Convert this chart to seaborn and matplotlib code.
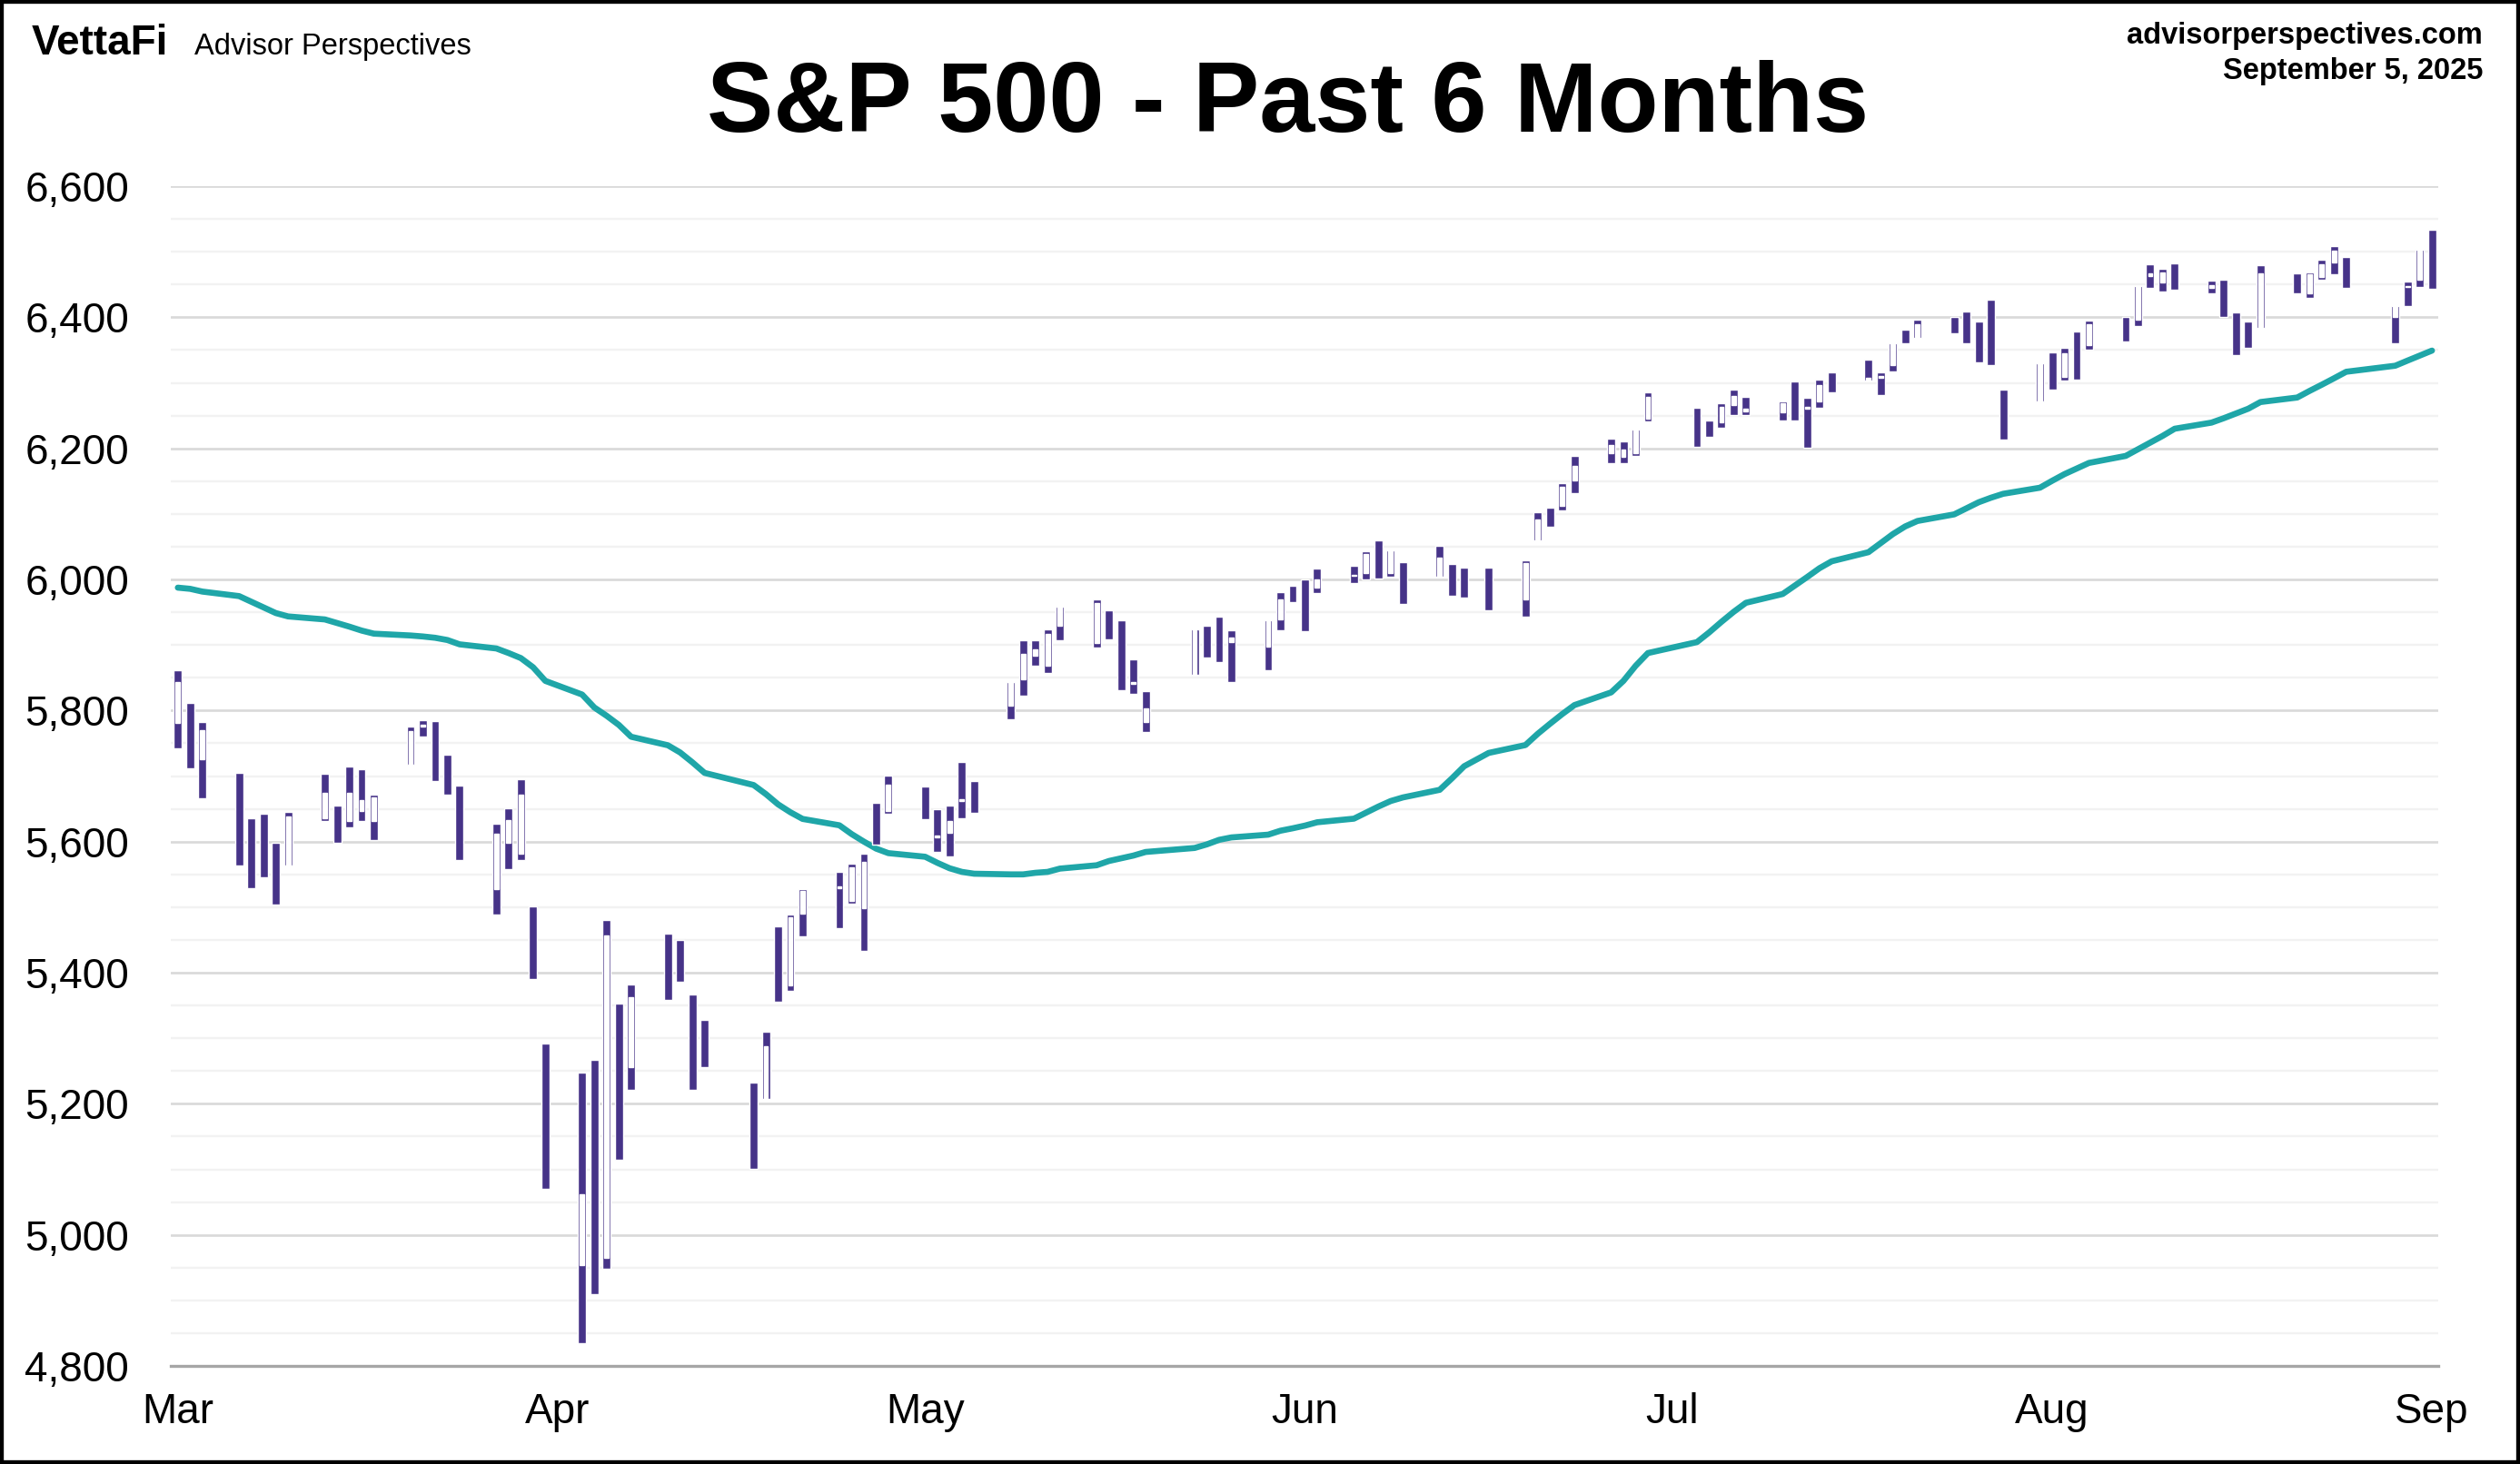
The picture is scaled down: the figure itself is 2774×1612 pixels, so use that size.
import pandas as pd
import matplotlib.pyplot as plt
import seaborn as sns
from matplotlib.patches import Rectangle
from matplotlib.ticker import MultipleLocator, FuncFormatter

# trading days shown (Mar 5 - Sep 5, 2025)
holidays = ['2025-04-18', '2025-05-26', '2025-06-19', '2025-07-04', '2025-09-01']
dates = pd.bdate_range('2025-03-05', '2025-09-05').drop(pd.to_datetime(holidays))

opens = [5781, 5786, 5726, 5705, 5604, 5625, 5595, 5564, 5636, 5655, 5632, 5647, 5631, 5718, 5776, 5772, 5696, 5680, 5528,
         5598, 5581, 5493, 5292, 4954, 5194, 4965, 5353, 5256, 5442, 5411, 5336, 5306, 5233, 5208, 5396, 5381, 5490, 5529, 5509, 5499,
         5625, 5646, 5665, 5607, 5614, 5662, 5679, 5808, 5848, 5884, 5869, 5929, 5903, 5945, 5929, 5841, 5782, 5854, 5925, 5940, 5904,
         5897, 5939, 5979, 5986, 5987, 6005, 6010, 6049, 6010, 6001, 6004, 6012, 5988, 6005, 5970, 6061, 6104, 6112, 6151, 6193,
         6187, 6193, 6246, 6259, 6233, 6240, 6266, 6256, 6255, 6295, 6261, 6272, 6313, 6305, 6307, 6327, 6369, 6370, 6398, 6409, 6375, 6427,
         6287, 6272, 6336, 6309, 6374, 6357, 6390, 6397, 6463, 6453, 6476, 6445, 6446, 6405, 6388, 6385, 6458, 6436, 6462, 6484, 6496,
         6401, 6446, 6457, 6530]
highs = [5861, 5812, 5783, 5705, 5636, 5642, 5598, 5645, 5704, 5655, 5715, 5711, 5671, 5775, 5785, 5784, 5732, 5686, 5627,
         5651, 5695, 5501, 5292, 5247, 5267, 5481, 5353, 5382, 5460, 5450, 5367, 5328, 5233, 5310, 5470, 5489, 5527, 5554, 5566, 5582,
         5659, 5701, 5684, 5649, 5655, 5721, 5692, 5844, 5907, 5907, 5924, 5959, 5969, 5953, 5938, 5878, 5830, 5924, 5929, 5943, 5922,
         5937, 5981, 5991, 6000, 6017, 6021, 6043, 6059, 6045, 6026, 6051, 6023, 6018, 6018, 6029, 6102, 6109, 6147, 6188, 6215,
         6211, 6228, 6285, 6262, 6243, 6269, 6290, 6278, 6272, 6302, 6277, 6305, 6316, 6336, 6316, 6361, 6381, 6396, 6401, 6409, 6393, 6427,
         6289, 6330, 6346, 6353, 6379, 6395, 6401, 6447, 6481, 6474, 6482, 6456, 6457, 6408, 6393, 6479, 6467, 6469, 6488, 6509, 6492,
         6417, 6454, 6503, 6533]
lows = [5742, 5712, 5666, 5564, 5529, 5546, 5504, 5563, 5631, 5598, 5622, 5632, 5603, 5718, 5760, 5693, 5671, 5572, 5489,
        5558, 5572, 5391, 5070, 4835, 4909, 4948, 5115, 5221, 5358, 5386, 5221, 5256, 5101, 5207, 5356, 5372, 5455, 5468, 5506, 5433,
        5596, 5643, 5634, 5585, 5578, 5635, 5644, 5787, 5822, 5868, 5857, 5907, 5896, 5909, 5831, 5826, 5767, 5854, 5881, 5874, 5844,
        5861, 5923, 5966, 5921, 5979, 5994, 6000, 6002, 6004, 5963, 6004, 5975, 5972, 5953, 5943, 6059, 6081, 6105, 6132, 6178,
        6177, 6188, 6241, 6202, 6218, 6231, 6251, 6251, 6243, 6242, 6201, 6262, 6285, 6304, 6282, 6318, 6361, 6369, 6375, 6361, 6331, 6327,
        6213, 6272, 6289, 6304, 6305, 6351, 6363, 6386, 6445, 6440, 6442, 6437, 6400, 6343, 6353, 6384, 6437, 6430, 6458, 6466, 6445,
        6360, 6417, 6446, 6444]
closes = [5843, 5739, 5770, 5615, 5572, 5599, 5522, 5639, 5675, 5615, 5675, 5663, 5668, 5768, 5777, 5712, 5693, 5581, 5612,
          5633, 5671, 5397, 5074, 5062, 4983, 5457, 5268, 5363, 5406, 5397, 5276, 5283, 5158, 5288, 5376, 5485, 5525, 5529, 5561, 5569,
          5604, 5687, 5650, 5607, 5631, 5664, 5660, 5844, 5887, 5893, 5917, 5958, 5964, 5940, 5845, 5842, 5803, 5922, 5889, 5912, 5912,
          5936, 5970, 5971, 5939, 6000, 6006, 6039, 6022, 6045, 5977, 6033, 5983, 5981, 5968, 6025, 6092, 6092, 6141, 6173, 6205,
          6198, 6227, 6279, 6230, 6226, 6263, 6280, 6260, 6269, 6244, 6264, 6297, 6297, 6306, 6310, 6359, 6363, 6389, 6390, 6371, 6363, 6339,
          6238, 6330, 6299, 6345, 6340, 6389, 6373, 6446, 6467, 6469, 6450, 6449, 6411, 6396, 6370, 6467, 6439, 6466, 6481, 6502, 6460,
          6416, 6448, 6502, 6482]

# 50-day moving average
ma50 = [5987.5, 5985.7, 5981.5, 5974.6, 5966.0, 5957.5, 5948.7, 5943.6, 5939.0, 5933.5, 5928.0, 5922.0, 5917.3, 5914.5, 5913.0,
        5911.0, 5907.6, 5901.0, 5894.7,
        5887.7, 5880.0, 5866.0, 5845.2, 5824.4, 5804.6, 5792.0, 5778.0, 5760.0, 5747.0, 5736.0, 5721.0, 5704.8, 5686.3, 5672.5,
        5656.8, 5644.8, 5634.6, 5624.9, 5611.5, 5600.0,
        5589.3, 5582.4, 5576.9, 5567.6, 5559.3, 5553.8, 5551.0, 5550.0, 5550.0, 5552.4, 5553.8, 5558.8, 5563.9, 5570.4, 5574.5,
        5578.7, 5584.2, 5590.3, 5595.8, 5602.7, 5606.4,
        5610.6, 5616.6, 5620.3, 5624.4, 5629.5, 5635.0, 5644.3, 5653.5, 5661.9, 5667.4, 5679.0, 5696.5, 5715.0, 5735.3, 5747.3,
        5764.4, 5779.7, 5794.5, 5808.3, 5827.7,
        5845.2, 5868.3, 5887.7, 5904.4, 5919.2, 5935.3, 5950.6, 5964.4, 5977.8, 5990.8, 6003.7, 6017.1, 6027.7, 6041.6, 6055.4,
        6069.3, 6080.9, 6089.2, 6099.3, 6108.6, 6117.8, 6124.7,
        6130.7, 6140.0, 6150.6, 6160.7, 6169.3, 6177.8, 6188.5, 6198.6, 6208.8, 6218.9, 6230.0, 6239.3, 6246.0, 6253.3, 6260.5,
        6270.7, 6277.6, 6287.6, 6297.1, 6306.9, 6316.9,
        6326.1, 6333.9, 6341.5, 6349.2]

month_ticks = ['2025-03-05', '2025-04-05', '2025-05-05', '2025-06-05', '2025-07-05', '2025-08-05', '2025-09-05']
month_labels = ['Mar', 'Apr', 'May', 'Jun', 'Jul', 'Aug', 'Sep']

PURPLE = '#463388'
TEAL = '#1fa6a8'

sns.set_theme(style='white')
plt.rcParams['font.family'] = ['Liberation Sans', 'DejaVu Sans']
plt.rcParams['text.color'] = 'black'
plt.rcParams['xtick.color'] = 'black'
plt.rcParams['ytick.color'] = 'black'

df = pd.DataFrame({'date': dates, 'open': opens, 'high': highs, 'low': lows, 'close': closes, 'ma50': ma50})
up = df[df['close'] >= df['open']]

fig = plt.figure(figsize=(27.74, 16.12), dpi=100)
ax = fig.add_axes([0.0678, 0.0670, 0.8998, 0.8058])

sns.lineplot(data=df, x='date', y='ma50', ax=ax, color=TEAL, lw=4.8, zorder=3)

# candles: full range in purple, up-day bodies hollowed out in white
ax.bar(df['date'], df['high'] - df['low'], bottom=df['low'], width=0.66, color=PURPLE, zorder=4)
ax.bar(up['date'], (up['close'] - up['open']).clip(lower=2.2), bottom=up['open'], width=0.36,
       color='white', zorder=5)

ax.set_ylim(4800, 6600)
ax.set_xlim(pd.Timestamp('2025-03-05') - pd.Timedelta(days=0.57), pd.Timestamp('2025-09-05') + pd.Timedelta(days=0.52))
ax.yaxis.set_major_locator(MultipleLocator(200))
ax.yaxis.set_minor_locator(MultipleLocator(50))
ax.yaxis.set_major_formatter(FuncFormatter(lambda v, p: f'{v:,.0f}'))
ax.set_xticks(pd.to_datetime(month_ticks))
ax.set_xticklabels(month_labels)
ax.grid(which='major', axis='y', color='#d9d9d9', lw=1.9)
ax.grid(which='minor', axis='y', color='#f2f2f2', lw=1.7)
ax.grid(which='major', axis='x', visible=False)
ax.set_axisbelow(True)
for s in ['top', 'right', 'left']:
    ax.spines[s].set_visible(False)
ax.spines['bottom'].set_color('#a6a6a6')
ax.spines['bottom'].set_linewidth(2.4)
ax.tick_params(which='both', length=0)
ax.tick_params(axis='y', pad=33, labelsize=33, labelcolor='black')
ax.tick_params(axis='x', pad=21, labelsize=33, labelcolor='black')
ax.set_xlabel('')
ax.set_ylabel('')

# header
fig.text(0.511, 0.910, 'S&P 500 - Past 6 Months', ha='center', va='baseline', fontsize=79, fontweight='bold')
fig.text(0.0126, 0.9627, 'VettaFi', ha='left', va='baseline', fontsize=33, fontweight='bold')
fig.text(0.0771, 0.9627, 'Advisor Perspectives', ha='left', va='baseline', fontsize=23.5)
fig.text(0.9853, 0.970, 'advisorperspectives.com', ha='right', va='baseline', fontsize=23.5, fontweight='bold')
fig.text(0.9853, 0.946, 'September 5, 2025', ha='right', va='baseline', fontsize=23.5, fontweight='bold')

fig.add_artist(Rectangle((0, 0), 1, 1, transform=fig.transFigure, fill=False, lw=6, edgecolor='black'))

fig.savefig('out.png', dpi=100)
